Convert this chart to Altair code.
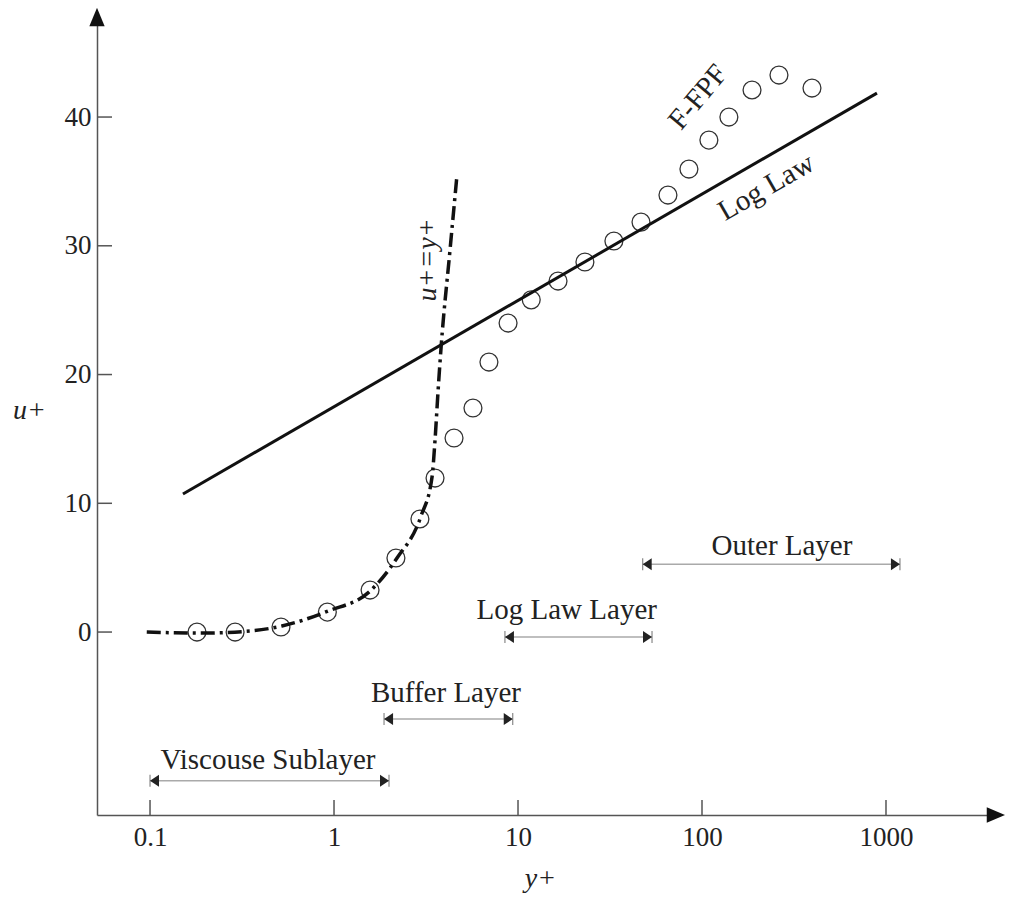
import altair as alt
import pandas as pd

# ---------------- data ----------------
# F-FPF measured profile (circles)
circ_x = [0.18, 0.29, 0.515, 0.92, 1.57, 2.17, 2.93, 3.54, 4.49, 5.69, 6.95, 8.83,
          11.8, 16.5, 23.1, 33.2, 46.6, 65.3, 84.9, 109, 140, 187, 262, 396]
circ_u = [0.0, 0.0, 0.39, 1.55, 3.26, 5.75, 8.78, 11.96, 15.07, 17.4, 20.97, 24.0,
          25.8, 27.26, 28.74, 30.37, 31.84, 33.94, 35.96, 38.21, 40.0, 42.1, 43.26, 42.25]

# u+ = y+ curve (dash-dot)
curve_x = [0.096, 0.187, 0.349, 0.521, 0.927, 1.57, 2.20, 2.97, 3.41, 3.54, 3.68, 3.82, 4.27, 4.66]
curve_u = [0.0, -0.08, 0.08, 0.47, 1.63, 3.18, 5.75, 9.01, 12.04, 14.91, 18.8, 22.14, 29.67, 35.5]

# Log law line
loglaw_x = [0.151, 893]
loglaw_u = [10.72, 41.86]

# Layer ranges
range_names = ["Viscouse Sublayer", "Buffer Layer", "Log Law Layer", "Outer Layer"]
range_start = [0.1, 1.87, 8.49, 47.6]
range_end = [1.99, 9.36, 53.5, 1191]
range_u = [-11.55, -6.76, -0.39, 5.26]
label_x = [0.4375, 4.06, 18.4, 272]
label_u = [-10.64, -5.44, 1.01, 5.98]

# Curve labels
ann_text = ["F-FPF", "Log Law"]
ann_x = [95, 223]
ann_u = [41.55, 34.56]
uy_text = ["u+=y+"]
uy_x = [3.24]
uy_u = [28.9]

x_ticks = [0.1, 1, 10, 100, 1000]
y_ticks = [0, 10, 20, 30, 40]

X_DOM = [0.0515, 4165]
Y_DOM = [-14.21, 47.77]
W, H = 903, 798
FONT = "Liberation Serif"
INK = "#222222"

xs = alt.Scale(type="log", domain=X_DOM, nice=False)
ys = alt.Scale(domain=Y_DOM, nice=False, zero=False)

x_axis = alt.Axis(orient="bottom", values=x_ticks, format="~g", ticks=False, tickSize=0, grid=False,
                  domainColor="#555555", domainWidth=1.5,
                  labelFont=FONT, labelFontSize=27, labelColor=INK, labelPadding=9,
                  title="y+", titleFont=FONT, titleFontSize=28, titleFontStyle="italic",
                  titleFontWeight="normal", titleColor=INK, titleX=443, titleY=63,
                  titleAlign="center", titleBaseline="middle", titleAngle=0)
y_axis = alt.Axis(orient="left", values=y_ticks, ticks=False, tickSize=0, grid=False,
                  domainColor="#555555", domainWidth=1.5,
                  labelFont=FONT, labelFontSize=27, labelColor=INK, labelPadding=6,
                  title="u+", titleFont=FONT, titleFontSize=28, titleFontStyle="italic",
                  titleFontWeight="normal", titleColor=INK, titleX=-68, titleY=393,
                  titleAlign="center", titleBaseline="middle", titleAngle=0)

df_c = pd.DataFrame({"x": circ_x, "u": circ_u})
df_curve = pd.DataFrame({"x": curve_x, "u": curve_u})
df_log = pd.DataFrame({"x": loglaw_x, "u": loglaw_u})
df_r = pd.DataFrame({"name": range_names, "x1": range_start, "x2": range_end,
                     "u": range_u, "lx": label_x, "lu": label_u})
df_ann = pd.DataFrame({"t": ann_text, "x": ann_x, "u": ann_u})
df_uy = pd.DataFrame({"t": uy_text, "x": uy_x, "u": uy_u})
df_xt = pd.DataFrame({"x": x_ticks})
df_yt = pd.DataFrame({"u": y_ticks})
df_one = pd.DataFrame({"k": [0]})

def X(f, axis=None):
    return alt.X(f, type="quantitative", scale=xs, axis=axis)

def Y(f, axis=None):
    return alt.Y(f, type="quantitative", scale=ys, axis=axis)

circles = alt.Chart(df_c).mark_point(shape="circle", filled=False, size=320,
                                     color="#333333", strokeWidth=1.3, opacity=1).encode(
    x=X("x", x_axis), y=Y("u", y_axis))

loglaw = alt.Chart(df_log).mark_line(color="#111111", strokeWidth=3).encode(
    x=X("x"), y=Y("u"))

curve = alt.Chart(df_curve).mark_line(color="#111111", strokeWidth=3.5,
                                      strokeDash=[14, 5, 3, 5], interpolate="monotone").encode(
    x=X("x"), y=Y("u"))

# inward axis ticks
xticks = alt.Chart(df_xt).mark_rule(color="#555555", strokeWidth=1.5, y2Offset=-15).encode(
    x=X("x"), y=alt.YDatum(Y_DOM[0], axis=None), y2=alt.Y2Datum(Y_DOM[0]))
yticks = alt.Chart(df_yt).mark_rule(color="#555555", strokeWidth=1.5, x2Offset=15).encode(
    y=Y("u"), x=alt.XDatum(X_DOM[0], axis=None), x2=alt.X2Datum(X_DOM[0]))

# axis arrowheads
up_path = "M0,-1L0.83,1L-0.83,1Z"
right_path = "M1,0L-1,0.83L-1,-0.83Z"
arrow_up = alt.Chart(df_one).mark_point(shape=up_path, filled=True, size=340,
                                        color="#111111", opacity=1).encode(
    x=alt.XDatum(X_DOM[0], axis=None), y=alt.YDatum(Y_DOM[1], axis=None))
arrow_right = alt.Chart(df_one).mark_point(shape=right_path, filled=True, size=340, xOffset=-4,
                                           color="#111111", opacity=1).encode(
    x=alt.XDatum(X_DOM[1], axis=None), y=alt.YDatum(Y_DOM[0], axis=None))

# layer range arrows
rng_line = alt.Chart(df_r).mark_rule(color="#aaaaaa", strokeWidth=1.5).encode(
    x=X("x1"), x2="x2", y=Y("u"))
bar_l = alt.Chart(df_r).mark_rule(color="#888888", strokeWidth=1.2, yOffset=-6, y2Offset=6).encode(
    x=X("x1"), y=Y("u"), y2="u")
bar_r = alt.Chart(df_r).mark_rule(color="#888888", strokeWidth=1.2, yOffset=-6, y2Offset=6).encode(
    x=X("x2"), y=Y("u"), y2="u")
left_path = "M-0.75,0L0.75,-1L0.75,1Z"
rgt_path = "M0.75,0L-0.75,-1L-0.75,1Z"
head_l = alt.Chart(df_r).mark_point(shape=left_path, filled=True, size=144, xOffset=4.5,
                                    color=INK, opacity=1).encode(x=X("x1"), y=Y("u"))
head_r = alt.Chart(df_r).mark_point(shape=rgt_path, filled=True, size=144, xOffset=-4.5,
                                    color=INK, opacity=1).encode(x=X("x2"), y=Y("u"))
rng_text = alt.Chart(df_r).mark_text(font=FONT, fontSize=29, color=INK, align="center",
                                     baseline="alphabetic").encode(
    x=X("lx"), y=Y("lu"), text="name:N")

ann1 = alt.Chart(df_ann.iloc[[0]]).mark_text(font=FONT, fontSize=29, color=INK, align="center",
                                            baseline="middle", angle=310).encode(
    x=X("x"), y=Y("u"), text="t:N")
ann2 = alt.Chart(df_ann.iloc[[1]]).mark_text(font=FONT, fontSize=29, color=INK, align="center",
                                            baseline="middle", angle=330).encode(
    x=X("x"), y=Y("u"), text="t:N")
ann3 = alt.Chart(df_uy).mark_text(font=FONT, fontSize=28, color=INK, align="center",
                                  baseline="middle", angle=270, fontStyle="italic").encode(
    x=X("x"), y=Y("u"), text="t:N")

chart = alt.layer(
    circles, loglaw, curve, xticks, yticks, arrow_up, arrow_right,
    rng_line, bar_l, bar_r, head_l, head_r, rng_text, ann1, ann2, ann3
).resolve_axis(
    x="independent", y="independent"
).properties(
    width=W, height=H,
    padding={"left": 89, "top": 9, "right": 5, "bottom": 78},
    autosize=alt.AutoSizeParams(type="none"),
    background="white",
).configure_view(stroke=None)

chart.save("out.html", embed_options={"renderer": "svg", "actions": False})
